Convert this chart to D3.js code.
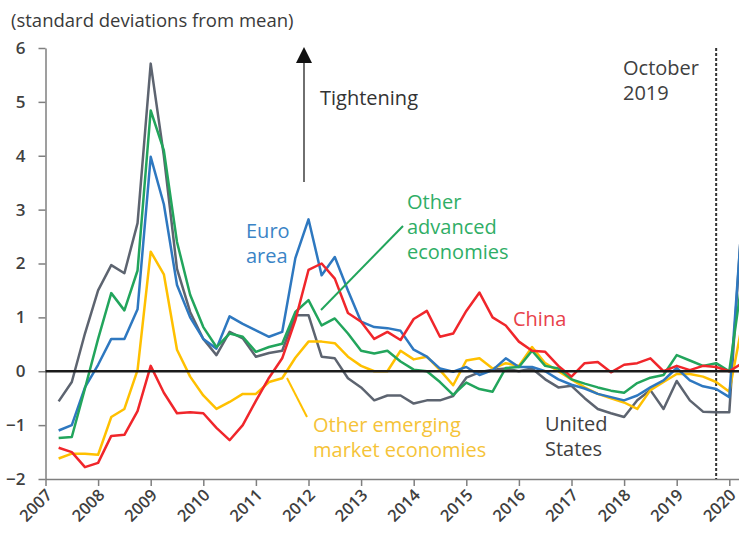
<!DOCTYPE html>
<html lang="en">
<head>
<meta charset="UTF-8">
<title>Financial conditions indices</title>
<script src="https://d3js.org/d3.v7.min.js"></script>
<style>
  body { margin: 0; background: #fff; }
  text { font-family: "Open Sans", sans-serif; }
  .axis path, .axis line { stroke: #7f7f7f; stroke-width: 1.5; }
  .axis text { fill: #404040; font-size: 17px; font-weight: 600; }
</style>
</head>
<body>
<div id="chart"></div>
<script>
// quarterly observations (decimal years)
var quarters = [2007.25, 2007.5, 2007.75, 2008, 2008.25, 2008.5, 2008.75, 2009, 2009.25, 2009.5, 2009.75,
  2010, 2010.25, 2010.5, 2010.75, 2011, 2011.25, 2011.5, 2011.75, 2012, 2012.25, 2012.5, 2012.75,
  2013, 2013.25, 2013.5, 2013.75, 2014, 2014.25, 2014.5, 2014.75, 2015, 2015.25, 2015.5, 2015.75,
  2016, 2016.25, 2016.5, 2016.75, 2017, 2017.25, 2017.5, 2017.75, 2018, 2018.25, 2018.5, 2018.75,
  2019, 2019.25, 2019.5, 2019.75, 2020, 2020.25];

var unitedStates = [-0.56, -0.2, 0.7, 1.5, 1.97, 1.82, 2.75, 5.71, 4.0, 1.9, 1.1,
  0.6, 0.3, 0.73, 0.61, 0.27, 0.34, 0.38, 1.04, 1.04, 0.27, 0.24, -0.13,
  -0.3, -0.54, -0.45, -0.45, -0.6, -0.54, -0.54, -0.46, -0.12, -0.02, 0.03, 0.05,
  0.0, 0.05, -0.15, -0.3, -0.27, -0.5, -0.7, -0.78, -0.85, -0.54, -0.35, -0.7,
  -0.18, -0.54, -0.75, -0.76, -0.76, 3.0];

var otherEmerging = [-1.62, -1.53, -1.53, -1.55, -0.85, -0.7, 0.02, 2.22, 1.8, 0.4, -0.1,
  -0.45, -0.7, -0.57, -0.42, -0.42, -0.2, -0.13, 0.25, 0.55, 0.55, 0.52, 0.27,
  0.1, 0.0, 0.0, 0.38, 0.22, 0.27, 0.02, -0.26, 0.2, 0.24, 0.05, 0.15,
  0.1, 0.45, 0.15, 0.0, -0.15, -0.3, -0.42, -0.5, -0.58, -0.7, -0.35, -0.2,
  -0.05, -0.05, -0.1, -0.2, -0.38, 0.9];

var euroArea = [-1.1, -1.0, -0.3, 0.12, 0.6, 0.6, 1.15, 3.98, 3.1, 1.6, 1.0,
  0.6, 0.42, 1.02, 0.88, 0.76, 0.64, 0.73, 2.1, 2.82, 1.78, 2.12, 1.5,
  0.92, 0.82, 0.8, 0.75, 0.4, 0.27, 0.05, -0.01, 0.08, -0.07, 0.02, 0.24,
  0.08, 0.08, 0.0, -0.15, -0.25, -0.32, -0.42, -0.48, -0.54, -0.45, -0.3, -0.17,
  0.06, -0.17, -0.28, -0.33, -0.48, 2.95];

var otherAdvanced = [-1.24, -1.22, -0.32, 0.6, 1.45, 1.13, 1.87, 4.84, 4.1, 2.4, 1.42,
  0.82, 0.45, 0.7, 0.64, 0.36, 0.45, 0.51, 1.1, 1.32, 0.85, 0.98, 0.7,
  0.38, 0.33, 0.38, 0.18, 0.03, 0.0, -0.2, -0.44, -0.21, -0.33, -0.38, 0.06,
  0.08, 0.38, 0.1, 0.05, -0.15, -0.23, -0.3, -0.36, -0.4, -0.22, -0.12, -0.07,
  0.3, 0.2, 0.1, 0.15, 0.0, 1.75];

var china = [-1.42, -1.5, -1.78, -1.7, -1.2, -1.18, -0.74, 0.1, -0.4, -0.78, -0.76,
  -0.78, -1.05, -1.28, -1.0, -0.55, -0.12, 0.24, 0.95, 1.88, 2.0, 1.72, 1.08,
  0.92, 0.6, 0.73, 0.58, 0.97, 1.12, 0.64, 0.7, 1.12, 1.46, 1.0, 0.85,
  0.55, 0.38, 0.36, 0.1, -0.1, 0.15, 0.17, -0.02, 0.12, 0.15, 0.24, 0.0,
  0.1, 0.02, 0.1, 0.08, 0.0, 0.15];

var yearTicks = [2007, 2008, 2009, 2010, 2011, 2012, 2013, 2014, 2015, 2016, 2017, 2018, 2019, 2020];
var valueTicks = [-2, -1, 0, 1, 2, 3, 4, 5, 6];

var series = [
  {name: "United States", values: unitedStates, color: "#5d6470"},
  {name: "Other emerging market economies", values: otherEmerging, color: "#ffc000"},
  {name: "Euro area", values: euroArea, color: "#2e78c0"},
  {name: "Other advanced economies", values: otherAdvanced, color: "#22a55c"},
  {name: "China", values: china, color: "#f0262b"}
];

var width = 739, height = 535;

var svg = d3.select("#chart")
  .append("svg")
  .attr("width", width)
  .attr("height", height);

var x = d3.scaleLinear().domain([2007, 2020]).range([45.5, 729.3]);
var y = d3.scaleLinear().domain([-2, 6]).range([479, 48]);

// x axis runs on to the right edge of the picture
var xAxisScale = x.copy().domain([2007, x.invert(width)]).range([x(2007), width]);

var xAxis = svg.append("g")
  .attr("class", "axis")
  .attr("transform", "translate(0," + y(-2) + ")")
  .call(d3.axisBottom(xAxisScale).tickValues(yearTicks).tickFormat(d3.format("d")).tickSize(7).tickSizeOuter(0));
xAxis.selectAll("text")
  .attr("y", 0).attr("x", 0).attr("dy", "0.35em")
  .style("text-anchor", "end")
  .style("font-size", "16.5px")
  .attr("transform", "translate(3,13) rotate(-45)");

var yAxis = svg.append("g")
  .attr("class", "axis")
  .attr("transform", "translate(" + x(2007) + ",0)")
  .call(d3.axisLeft(y).tickValues(valueTicks).tickSize(7).tickSizeOuter(0).tickPadding(13));

// dotted line for October 2019
svg.append("line")
  .attr("x1", x(2019.75)).attr("x2", x(2019.75))
  .attr("y1", y(6)).attr("y2", y(-2))
  .attr("stroke", "#333").attr("stroke-width", 2)
  .attr("stroke-dasharray", "3,2");

var line = d3.line()
  .x(function(d, i) { return x(quarters[i]); })
  .y(function(d) { return y(d); });

svg.selectAll(".series")
  .data(series)
  .enter()
  .append("path")
  .attr("class", "series")
  .attr("d", function(d) { return line(d.values); })
  .attr("fill", "none")
  .attr("stroke", function(d) { return d.color; })
  .attr("stroke-width", 2.5)
  .attr("stroke-linejoin", "round");

// zero line
svg.append("line")
  .attr("x1", x(2007)).attr("x2", width)
  .attr("y1", y(0)).attr("y2", y(0))
  .attr("stroke", "#1a1a1a").attr("stroke-width", 2.5);

// title
svg.append("text")
  .attr("x", 11).attr("y", 27)
  .attr("fill", "#3a3a3a")
  .style("font-size", "18.5px")
  .text("(standard deviations from mean)");

// tightening arrow
svg.append("line")
  .attr("x1", 304).attr("x2", 304)
  .attr("y1", 182).attr("y2", 60)
  .attr("stroke", "#606060").attr("stroke-width", 1.8);
svg.append("path")
  .attr("d", "M304,47L312,63L296,63Z")
  .attr("fill", "#111");

function label(lines, px, py, color) {
  var t = svg.append("text")
    .attr("x", px).attr("y", py)
    .attr("fill", color)
    .style("font-size", "20px");
  lines.forEach(function(s, i) {
    t.append("tspan").attr("x", px).attr("dy", i === 0 ? 0 : 25).text(s);
  });
}

label(["Tightening"], 320, 105, "#333");
label(["October", "2019"], 623, 75, "#404040");
label(["Euro", "area"], 246, 238, "#3a84c6");
label(["Other", "advanced", "economies"], 407, 209, "#2fae66");
label(["China"], 513, 326, "#e8414a");
label(["Other emerging", "market economies"], 313, 432, "#f5c338");
label(["United", "States"], 545, 431, "#404040");

// leader lines
svg.append("line")
  .attr("x1", 403).attr("y1", 226).attr("x2", 321).attr("y2", 310)
  .attr("stroke", "#22a55c").attr("stroke-width", 2);
svg.append("line")
  .attr("x1", 287).attr("y1", 378).attr("x2", 307).attr("y2", 417)
  .attr("stroke", "#ffc000").attr("stroke-width", 2);
</script>
</body>
</html>
